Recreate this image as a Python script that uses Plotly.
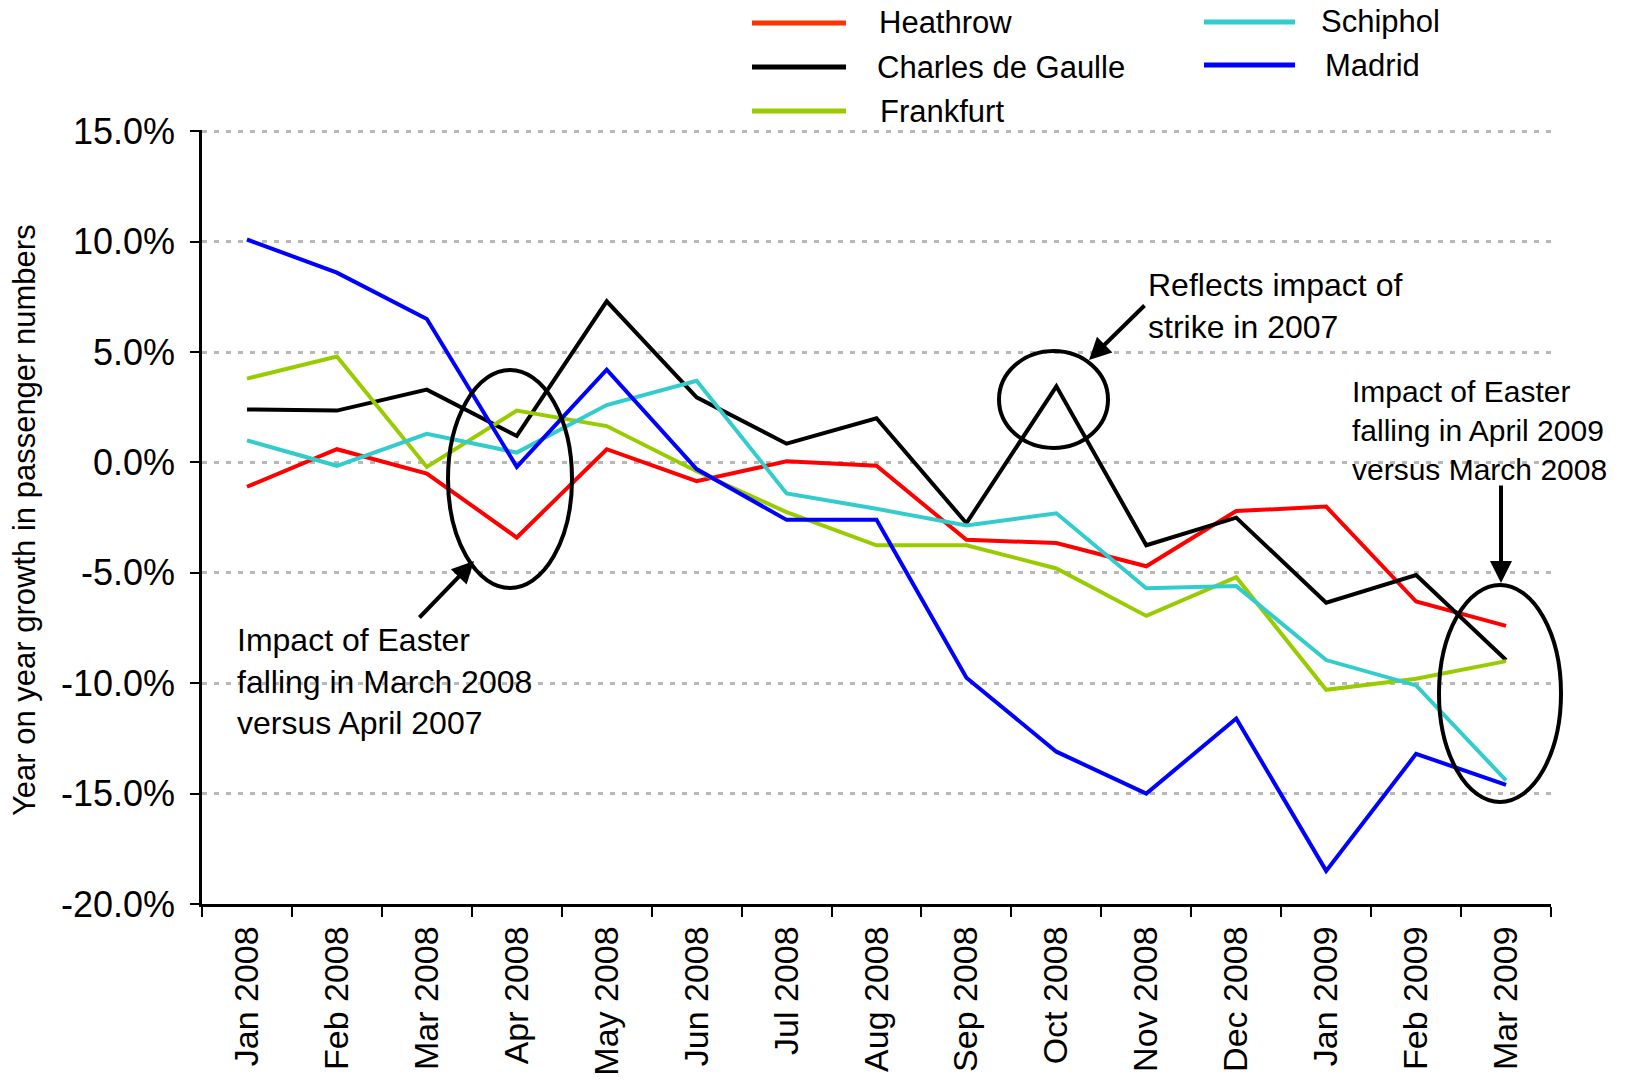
import plotly.graph_objects as go

months = ["Jan 2008", "Feb 2008", "Mar 2008", "Apr 2008", "May 2008", "Jun 2008",
          "Jul 2008", "Aug 2008", "Sep 2008", "Oct 2008", "Nov 2008", "Dec 2008",
          "Jan 2009", "Feb 2009", "Mar 2009"]

heathrow = [-1.1, 0.6, -0.5, -3.4, 0.6, -0.85, 0.05, -0.15, -3.5, -3.65, -4.7, -2.2, -2.0, -6.3, -7.4]
cdg = [2.4, 2.35, 3.3, 1.2, 7.3, 2.95, 0.85, 2.0, -2.75, 3.45, -3.75, -2.5, -6.35, -5.1, -8.95]
frankfurt = [3.8, 4.8, -0.2, 2.35, 1.65, -0.4, -2.25, -3.75, -3.75, -4.8, -6.95, -5.2, -10.3, -9.8, -9.0]
schiphol = [1.0, -0.15, 1.3, 0.45, 2.6, 3.7, -1.4, -2.1, -2.85, -2.3, -5.7, -5.6, -8.95, -10.1, -14.4]
madrid = [10.1, 8.6, 6.5, -0.2, 4.2, -0.3, -2.6, -2.6, -9.75, -13.1, -15.0, -11.6, -18.5, -13.2, -14.6]

series = [
    ("Heathrow", heathrow, "#ff0000"),
    ("Charles de Gaulle", cdg, "#000000"),
    ("Frankfurt", frankfurt, "#99cc00"),
    ("Schiphol", schiphol, "#33cccc"),
    ("Madrid", madrid, "#0000ff"),
]

y_ticks = [15, 10, 5, 0, -5, -10, -15, -20]
y_tick_labels = ["15.0%", "10.0%", "5.0%", "0.0%", "-5.0%", "-10.0%", "-15.0%", "-20.0%"]

# page geometry (body margin removed so the figure fills the window)
W, H = 1627, 1083
PLOT_L, PLOT_R, PLOT_T, PLOT_B = 202, 1551, 130, 904   # plot area in page pixels
PW, PH = PLOT_R - PLOT_L, PLOT_B - PLOT_T
FONT = "Liberation Sans, Arial, sans-serif"


def px_x(px):
    return (px - PLOT_L) / PW


def px_y(py):
    return (PLOT_B - py) / PH


fig = go.Figure()
for name, vals, color in series:
    fig.add_trace(go.Scatter(x=months, y=vals, mode="lines", name=name,
                             line=dict(color=color, width=4), showlegend=False))

shapes = []
annotations = []

# legend (drawn manually, two columns)
legend_rows = [
    ("Heathrow", "#ff3300", 752, 846, 23, 877),
    ("Charles de Gaulle", "#000000", 752, 846, 67, 875),
    ("Frankfurt", "#99cc00", 752, 846, 111, 878),
    ("Schiphol", "#33cccc", 1204, 1295, 22, 1319),
    ("Madrid", "#0000ff", 1204, 1295, 65, 1323),
]
for name, color, x0, x1, yy, tx in legend_rows:
    shapes.append(dict(type="line", xref="paper", yref="paper",
                       x0=px_x(x0), x1=px_x(x1), y0=px_y(yy), y1=px_y(yy),
                       line=dict(color=color, width=5)))
    annotations.append(dict(text=name, xref="paper", yref="paper", x=px_x(tx), y=px_y(yy),
                            xanchor="left", yanchor="middle", showarrow=False,
                            font=dict(family=FONT, size=31, color="black")))

# ellipses
for x0, x1, y0, y1 in [(448, 572, 370, 588), (999, 1108, 351, 448), (1439, 1561, 585, 802)]:
    shapes.append(dict(type="circle", xref="paper", yref="paper",
                       x0=px_x(x0), x1=px_x(x1), y0=px_y(y1), y1=px_y(y0),
                       line=dict(color="black", width=4)))

# arrows (head position, tail offset in px)
for hx, hy, ax, ay in [(474, 561, -56, 58), (1089, 360, 57, -56), (1501, 583, 0, -99)]:
    annotations.append(dict(text="", xref="paper", yref="paper", x=px_x(hx), y=px_y(hy),
                            ax=ax, ay=ay, showarrow=True, arrowhead=2, arrowsize=1.1,
                            arrowwidth=4, arrowcolor="black", standoff=0))

# annotation texts
for txt, tx, ty, fs in [
    ("Impact of Easter<br>falling in March 2008<br>versus April 2007", 235, 681, 32),
    ("Reflects impact of<br>strike in 2007", 1146, 306, 32),
    ("Impact of Easter<br>falling in April 2009<br>versus March 2008", 1350, 430, 30),
]:
    annotations.append(dict(text=txt, xref="paper", yref="paper", x=px_x(tx), y=px_y(ty),
                            xanchor="left", yanchor="middle", align="left", showarrow=False,
                            font=dict(family=FONT, size=fs, color="black")))

# y axis title
annotations.append(dict(text="Year on year growth in passenger numbers", xref="paper", yref="paper",
                        x=px_x(24), y=px_y(520), textangle=-90, showarrow=False,
                        xanchor="center", yanchor="middle",
                        font=dict(family=FONT, size=31, color="black")))

fig.update_layout(
    width=W, height=H,
    margin=dict(l=PLOT_L, r=W - PLOT_R, t=PLOT_T, b=H - PLOT_B, autoexpand=False),
    paper_bgcolor="white", plot_bgcolor="white",
    shapes=shapes, annotations=annotations,
    showlegend=False,
    xaxis=dict(type="category", categoryorder="array", categoryarray=months,
               range=[-0.5, 14.5], tickson="boundaries", ticks="outside", ticklen=10,
               tickwidth=2, tickcolor="black", showline=True, linecolor="black", linewidth=2.5,
               showgrid=False, tickangle=-90, automargin=False, ticklabelstandoff=6,
               tickfont=dict(family=FONT, size=34, color="black")),
    yaxis=dict(range=[-20, 15.06], tickvals=y_ticks, ticktext=y_tick_labels, ticks="outside",
               ticklen=9, tickwidth=2, tickcolor="black", showline=True, linecolor="black",
               linewidth=2.5, showgrid=True, gridcolor="#b8b8b8", gridwidth=2.5,
               griddash="5px,7px", zeroline=False, automargin=False, ticklabelstandoff=8,
               tickfont=dict(family=FONT, size=36, color="black")),
)

fig.write_html("out.html", config={"displayModeBar": False},
               post_script="document.body.style.margin='0';document.body.style.overflow='hidden';")
